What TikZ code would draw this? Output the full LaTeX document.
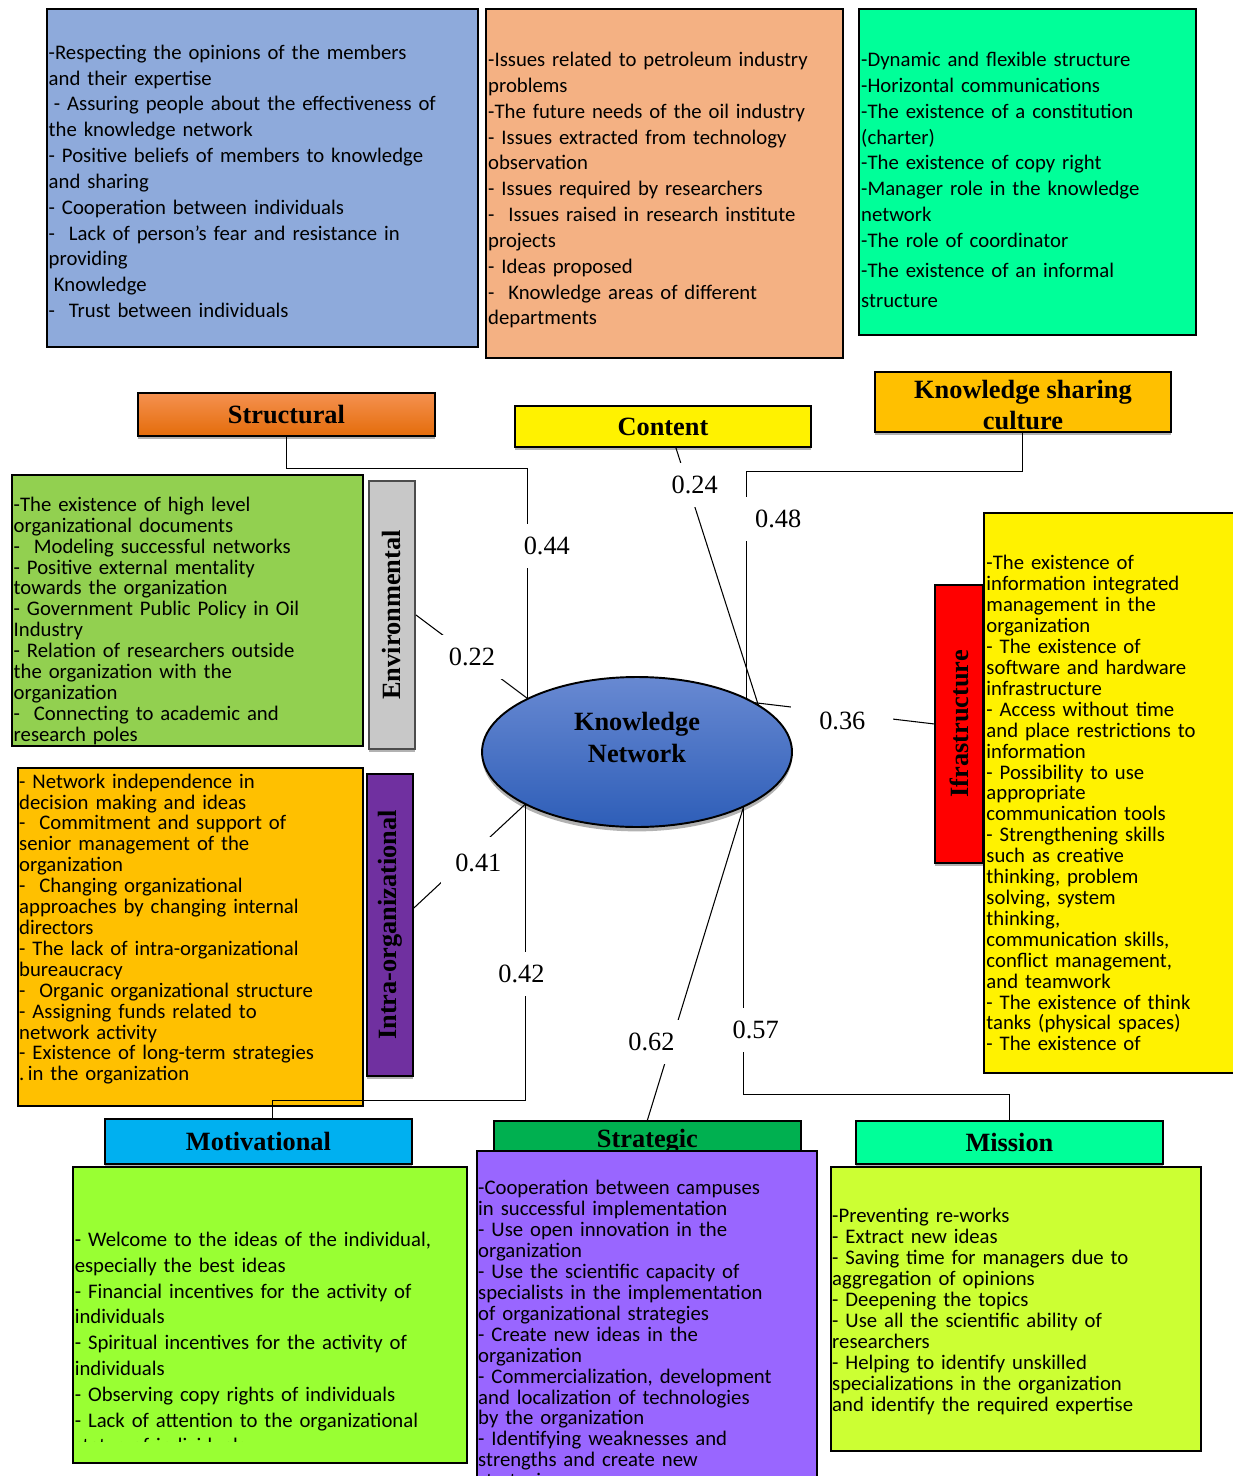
\documentclass[tikz,border=0pt]{standalone}
\usepackage{fontspec}
\setmainfont{Carlito}
\newfontfamily\tnr{Liberation Serif}
\usepackage{tikz}
\usetikzlibrary{positioning, calc, shadows, shapes.geometric}
\usepackage{xcolor}
\definecolor{cultureblue}{RGB}{142,170,219}
\definecolor{contentpeach}{RGB}{244,177,131}
\definecolor{mint}{RGB}{0,255,153}
\definecolor{structtop}{RGB}{245,145,80}
\definecolor{structbot}{RGB}{228,108,10}
\definecolor{envgreen}{RGB}{146,208,80}
\definecolor{envgray}{RGB}{200,200,200}
\definecolor{amber}{RGB}{255,192,0}
\definecolor{plum}{RGB}{112,48,160}
\definecolor{sky}{RGB}{0,176,240}
\definecolor{motlime}{RGB}{153,255,51}
\definecolor{leaf}{RGB}{0,176,80}
\definecolor{stratviolet}{RGB}{153,102,255}
\definecolor{misslime}{RGB}{204,255,51}
\definecolor{kntop}{RGB}{104,137,210}
\definecolor{knbot}{RGB}{46,94,184}
\newcommand\loosebody{\fontsize{11.8}{14.7}\selectfont\lineskiplimit=-10pt\relax}
\newcommand\tightbody{\fontsize{11.8}{11.9}\selectfont\lineskiplimit=-10pt\relax}
\newcommand\headfont{\tnr\bfseries\fontsize{15}{18}\selectfont}
\newcommand\numfont{\tnr\fontsize{15}{18}\selectfont}

\begin{document}
\begin{tikzpicture}[
  x=0.02cm, y=-0.02cm,
  card/.style={rectangle, draw=black, line width=1.1pt, anchor=north west, align=left, inner xsep=0.2pt, inner ysep=0pt, font=\loosebody},
  tightcard/.style={card, font=\tightbody},
  head/.style={rectangle, draw=black, line width=1.1pt, anchor=north west, inner sep=0pt, align=center, font=\headfont, drop shadow={shadow xshift=0pt, shadow yshift=-2pt, fill=black!60}},
  num/.style={fill=white, inner xsep=5.5pt, inner ysep=0pt, minimum height=0.88cm, font=\numfont},
  link/.style={line width=0.6pt},
]
  \useasboundingbox (0,0) rectangle (1232,1476);

  % top row of item lists
  \node[card, fill=cultureblue, minimum width=8.62cm, minimum height=6.76cm, text width=8.55cm] (cultureitems) at (46,8) {\rule{0pt}{12pt}-Respecting the opinions of the members\\and their expertise\\\hspace*{0.25em}- Assuring people about the effectiveness of\\the knowledge network\\- Positive beliefs of members to knowledge\\and sharing\\- Cooperation between individuals\\-\ \ Lack of person's fear and resistance in\\providing\\\hspace*{0.25em}Knowledge\\-\ \ Trust between individuals};
  \node[card, fill=contentpeach, minimum width=7.14cm, minimum height=6.98cm, text width=7.05cm] (contentitems) at (485,8) {\rule{0pt}{16pt}-Issues related to petroleum industry\\problems\\-The future needs of the oil industry\\- Issues extracted from technology\\observation\\- Issues required by researchers\\-\ \ Issues raised in research institute\\projects\\- Ideas proposed\\-\ \ Knowledge areas of different\\departments};
  \node[card, fill=mint, minimum width=6.74cm, minimum height=6.52cm, text width=6.65cm] (structitems) at (858,8) {\rule{0pt}{17pt}-Dynamic and flexible structure\\-Horizontal communications\\-The existence of a constitution\\(charter)\\-The existence of copy right\\-Manager role in the knowledge\\network\\-The role of coordinator\\[2.3pt]-The existence of an informal\\[2.3pt]structure};

  % headers
  \node[head, top color=structtop, bottom color=structbot, minimum width=5.94cm, minimum height=0.86cm] (structural) at (137,392) {Structural};
  \node[head, fill=yellow, minimum width=5.92cm, minimum height=0.82cm] (content) at (514,405) {Content};
  \node[head, fill=amber, minimum width=5.92cm, minimum height=1.2cm] (culture) at (874,371) {\rule{0pt}{14pt}Knowledge sharing\\culture};

  % left side
  \node[tightcard, fill=envgreen, minimum width=7.02cm, minimum height=5.42cm, text width=6.95cm] (envitems) at (11,474) {\rule{0pt}{20pt}-The existence of high level\\organizational documents\\-\ \ Modeling successful networks\\- Positive external mentality\\towards the organization\\- Government Public Policy in Oil\\Industry\\- Relation of researchers outside\\the organization with the\\organization\\-\ \ Connecting to academic and\\research poles};
  \node[head, draw=black!70, fill=envgray, minimum width=0.92cm, minimum height=5.36cm] (environ) at (368,480) {\rotatebox{90}{Environmental}};
  \node[tightcard, fill=amber, minimum width=6.9cm, minimum height=6.76cm, text width=6.85cm] (intraitems) at (17,767) {- Network independence in\\decision making and ideas\\-\ \ Commitment and support of\\senior management of the\\organization\\-\ \ Changing organizational\\approaches by changing internal\\directors\\- The lack of intra-organizational\\bureaucracy\\-\ \ Organic organizational structure\\- Assigning funds related to\\network activity\\- Existence of long-term strategies\\.\,in the organization\rule[-11pt]{0pt}{11pt}};
  \node[head, fill=plum, minimum width=0.92cm, minimum height=6.04cm] (intra) at (366,773) {\rotatebox{90}{Intra-organizational}};

  % right side
  \node[tightcard, fill=yellow, minimum width=5.4cm, minimum height=11.2cm, text width=5.3cm] (infraitems) at (983,512) {\rule{0pt}{20pt}-The existence of\\information integrated\\management in the\\organization\\- The existence of\\software and hardware\\infrastructure\\- Access without time\\and place restrictions to\\information\\- Possibility to use\\appropriate\\communication tools\\- Strengthening skills\\such as creative\\thinking, problem\\solving, system\\thinking,\\communication skills,\\conflict management,\\and teamwork\\- The existence of think\\tanks (physical spaces)\\- The existence of};
  \node[head, fill=red, minimum width=0.96cm, minimum height=5.56cm] (infra) at (934,584) {\rotatebox{90}{Ifrastructure}};

  % bottom row
  \node[head, fill=sky, minimum width=6.14cm, minimum height=0.9cm] (motiv) at (104,1118) {Motivational};
  \node[card, fill=motlime, minimum width=7.88cm, minimum height=5.92cm] (motitems) at (72,1166) {};
  \begin{scope}
    \clip (motitems.north west) rectangle ($(motitems.south east)+(0,-22)$);
    \node[card, draw=none, text width=7.75cm] (mottext) at ($(motitems.north west)+(1.5,65)$) {- Welcome to the ideas of the individual,\\especially the best ideas\\- Financial incentives for the activity of\\individuals\\- Spiritual incentives for the activity of\\individuals\\- Observing copy rights of individuals\\- Lack of attention to the organizational\\status of individuals};
  \end{scope}
  \node[head, fill=leaf, minimum width=6.14cm, minimum height=0.8cm] (strategic) at (493,1120) {Strategic};
  \node[tightcard, fill=stratviolet, minimum width=6.8cm, minimum height=7.3cm, text width=6.75cm] (stratitems) at (476,1150) {\rule{0pt}{11pt}-Cooperation between campuses\\in successful implementation\\- Use open innovation in the\\organization\\- Use the scientific capacity of\\specialists in the implementation\\of organizational strategies\\- Create new ideas in the\\organization\\- Commercialization, development\\and localization of technologies\\by the organization\\- Identifying weaknesses and\\strengths and create new\\strategies};
  \node[head, fill=mint, minimum width=6.14cm, minimum height=0.86cm] (mission) at (855,1120) {Mission};
  \node[tightcard, fill=misslime, minimum width=7.4cm, minimum height=5.68cm, text width=7.35cm] (missitems) at (830,1166) {\rule{0pt}{11pt}-Preventing re-works\\- Extract new ideas\\- Saving time for managers due to\\aggregation of opinions\\- Deepening the topics\\- Use all the scientific ability of\\researchers\\- Helping to identify unskilled\\specializations in the organization\\and identify the required expertise};

  % centre
  \node[ellipse, draw=black, line width=1.1pt, inner sep=0pt, outer sep=0pt, minimum width=6.2cm, minimum height=3cm, top color=kntop, bottom color=knbot, drop shadow={shadow xshift=0pt, shadow yshift=-2.5pt, fill=black!60}, align=center, font=\headfont] (kn) at (637,752) {Knowledge\\Network\rule[-17pt]{0pt}{17pt}};

  % links with weights
  \draw[link] (structural.south) -- ++(0,32) -| node[num, pos=0.668, xshift=0.38cm] {0.44} (kn.154.3);
  \draw[link] ($(content.south)+(13,0)$) -- node[num, pos=0.143, xshift=0.14cm] {0.24} (kn.21.6);
  \draw[link] (culture.south) -- ++(0,39) -| node[num, pos=0.603, xshift=0.64cm] {0.48} (kn.26.06);
  \draw[link] (environ.east) -- node[num] {0.22} (kn.154.3);
  \draw[link] ($(intra.east)+(0,-17)$) -- node[num, pos=0.47, xshift=0.24cm, yshift=-0.08cm, minimum width=1.48cm, minimum height=1.04cm] {0.41} (kn.205.7);
  \draw[link] (kn.23.3) -- node[num, pos=0.47, xshift=0.08cm, yshift=-0.16cm, minimum width=2.04cm, minimum height=0.76cm] {0.36} (infra.west);
  \draw[link] (kn.205.7) -- node[num, pos=0.574, xshift=-0.08cm] {0.42} ++(0,296) -| ($(motiv.north)+(14.5,0)$);
  \draw[link] (kn.333.94) -- node[num, pos=0.75, xshift=-0.4cm] {0.62} (strategic.north);
  \draw[link] (kn.333.94) -- node[num, pos=0.775, xshift=0.24cm] {0.57} ++(0,288) -| (mission.north);
\end{tikzpicture}
\end{document}
